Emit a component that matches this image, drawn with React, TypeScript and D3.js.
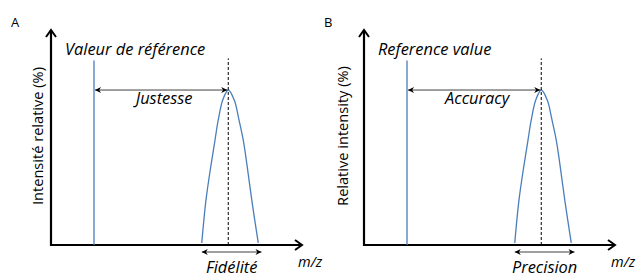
import React from "react";
import * as d3 from "d3";

const WIDTH = 639;
const HEIGHT = 277;
const BLUE = "#4a7ebb";
const FONT = "'Open Sans', 'Noto Sans', sans-serif";
const LABEL_SIZE = 16.4;

// peak profile (m/z units, % intensity)
const peakX = [60.3, 62.0, 64.0, 65.6, 66.9, 68.7, 70.9, 73.3, 75.2, 76.9, 78.4, 80.3, 82.9];
const peakY = [1.0, 22.0, 39.0, 51.2, 61.0, 70.7, 75.6, 70.7, 61.0, 51.2, 39.0, 22.0, 1.0];
const referenceX = 17.2;
const referenceTop = 90;
const peakCenter = 70.9;
const peakTop = 75.6;
const dashedTop = 91;
const spread = [60.3, 84.2];

const panelLetters = ["A", "B"];
const panelOffsets = [51, 364];
const yTitles = ["Intensité relative (%)", "Relative intensity (%)"];
const refLabels = ["Valeur de référence", "Reference value"];
const accuracyLabels = ["Justesse", "Accuracy"];
const precisionLabels = ["Fidélité", "Precision"];
const yTitleOffsets = [-8, -16];

const xScale = d3.scaleLinear().domain([0, 100]).range([0, 250]);
const yScale = d3.scaleLinear().domain([0, 100]).range([245, 40]);

const peakLine = d3
  .line<number>()
  .x((d, i) => xScale(peakX[i]))
  .y((d) => yScale(d))
  .curve(d3.curveCatmullRom);

type PanelProps = { i: number };

const Panel = ({ i }: PanelProps) => {
  const x0 = panelOffsets[i];
  const axisY = yScale(0);
  const xEnd = 251;
  const yEnd = 30;
  const refPx = xScale(referenceX);
  const peakPx = xScale(peakCenter);
  const accY = yScale(peakTop);
  const precY = 252;
  return (
    <g transform={`translate(${x0},0)`}>
      <text x={-40} y={27} fontSize={13} fontFamily={FONT}>
        {panelLetters[i]}
      </text>
      {/* axes */}
      <line x1={0} y1={axisY} x2={xEnd} y2={axisY} stroke="#000" strokeWidth={2.2} />
      <path
        d={`M${xEnd - 7},${axisY - 5} L${xEnd},${axisY} L${xEnd - 7},${axisY + 5}`}
        fill="none"
        stroke="#000"
        strokeWidth={2}
      />
      <line x1={0} y1={axisY + 1} x2={0} y2={yEnd} stroke="#000" strokeWidth={2.2} />
      <path
        d={`M${-5},${yEnd + 7} L0,${yEnd} L5,${yEnd + 7}`}
        fill="none"
        stroke="#000"
        strokeWidth={2}
      />
      <text
        transform={`translate(${yTitleOffsets[i]},${136}) rotate(-90)`}
        textAnchor="middle"
        fontSize={14.6}
        fontFamily={FONT}
      >
        {yTitles[i]}
      </text>
      <text x={xEnd - 4} y={267} fontSize={14.5} fontStyle="italic" fontFamily={FONT}>
        m/z
      </text>
      {/* reference line */}
      <line
        x1={refPx}
        x2={refPx}
        y1={axisY}
        y2={yScale(referenceTop)}
        stroke={BLUE}
        strokeWidth={1.3}
      />
      <text x={refPx - 29} y={55} fontSize={LABEL_SIZE} fontStyle="italic" fontFamily={FONT}>
        {refLabels[i]}
      </text>
      {/* peak */}
      <path d={peakLine(peakY) || ""} fill="none" stroke={BLUE} strokeWidth={1.3} />
      <line
        x1={peakPx}
        x2={peakPx}
        y1={axisY}
        y2={yScale(dashedTop)}
        stroke="#000"
        strokeWidth={1}
        strokeDasharray="3,2"
      />
      {/* accuracy arrow */}
      <line
        x1={refPx + 1}
        x2={peakPx - 1}
        y1={accY}
        y2={accY}
        stroke="#404040"
        strokeWidth={1}
        markerStart="url(#head)"
        markerEnd="url(#head)"
      />
      <text
        x={(refPx + peakPx) / 2 + 3}
        y={104}
        textAnchor="middle"
        fontSize={LABEL_SIZE}
        fontStyle="italic"
        fontFamily={FONT}
      >
        {accuracyLabels[i]}
      </text>
      {/* precision arrow */}
      <line
        x1={xScale(spread[0])}
        x2={xScale(spread[1])}
        y1={precY}
        y2={precY}
        stroke="#404040"
        strokeWidth={1}
        markerStart="url(#head)"
        markerEnd="url(#head)"
      />
      <text
        x={(xScale(spread[0]) + xScale(spread[1])) / 2}
        y={272.5}
        textAnchor="middle"
        fontSize={LABEL_SIZE}
        fontStyle="italic"
        fontFamily={FONT}
      >
        {precisionLabels[i]}
      </text>
    </g>
  );
};

export default function App() {
  return (
    <svg
      width={WIDTH}
      height={HEIGHT}
      style={{ position: "absolute", left: 0, top: 0, background: "#fff" }}
    >
      <defs>
        <marker
          id="head"
          viewBox="0 0 10 10"
          refX={10}
          refY={5}
          markerWidth={8}
          markerHeight={6}
          orient="auto-start-reverse"
          markerUnits="userSpaceOnUse"
        >
          <path d="M0,0 L10,5 L0,10 L3,5 Z" fill="#000" />
        </marker>
      </defs>
      {panelLetters.map((d, i) => (
        <Panel key={d} i={i} />
      ))}
    </svg>
  );
}
